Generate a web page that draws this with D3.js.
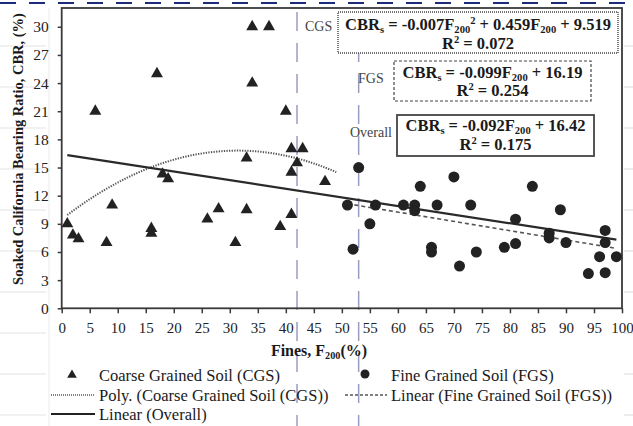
<!DOCTYPE html>
<html><head><meta charset="utf-8">
<script src="https://cdn.jsdelivr.net/npm/d3@7"></script>
<style>
html,body{margin:0;padding:0;background:#fff;}
svg{display:block;}
text{font-family:"Liberation Serif","Times New Roman",serif;}
</style></head>
<body>
<svg id="chart" width="633" height="426"></svg>
<script>
// ---- data ----
const cgsFines = [1,2,3,6,8,9,16,16,17,18,19,26,28,31,33,33,34,34,37,39,40,41,41,41,42,43,47];
const cgsCBR   = [9,7.8,7.4,21,7,11,8.5,8,25,14.3,13.8,9.5,10.6,7,16,10.5,30,24,30,8.7,21,17,14.5,10,15.5,17,13.5];
const fgsFines = [51,52,53,55,56,61,63,63,64,66,66,67,70,71,73,74,79,81,81,84,87,87,89,90,94,96,97,97,97,99];
const fgsCBR   = [11,6.3,15,9,11,11,11,10.4,13,6.5,6,11,14,4.5,11,6,6.5,9.5,6.9,13,8,7.5,10.5,7,3.7,5.5,8.3,7,3.8,5.5];
// trendline coefficients (as drawn)
const cgsPoly = [-0.00742, 0.4662, 9.481];
const cgsPolyRange = [1, 49.2];
const fgsLin = [-0.099, 16.19];  const fgsLinRange = [51, 99];
const allLin = [-0.092, 16.42];  const allLinRange = [1, 99];
const boundaries = [42, 53];
const boundaryLabels = ["CGS", "FGS", "Overall"];
const xTicks = d3.range(0, 101, 5);
const yTicks = d3.range(0, 31, 3);

const svg = d3.select("#chart");
const x = d3.scaleLinear().domain([0,100]).range([61.7, 622]);
const y = d3.scaleLinear().domain([0,32]).range([308.3, 8]);

// faint page artifacts
const faintY = [46, 87, 128, 169, 210, 251, 292, 333, 374, 415];
svg.selectAll("line.fl").data(faintY).enter().append("line").attr("class","fl")
  .attr("x1",0).attr("x2",46).attr("y1",d=>d).attr("y2",d=>d).attr("stroke","#ededed").attr("stroke-width",1.5);
svg.selectAll("line.fr").data(faintY).enter().append("line").attr("class","fr")
  .attr("x1",624).attr("x2",633).attr("y1",d=>d).attr("y2",d=>d).attr("stroke","#e6e6e6").attr("stroke-width",1.5);
svg.append("line").attr("x1",49).attr("x2",49).attr("y1",8).attr("y2",426).attr("stroke","#efefef").attr("stroke-width",1.2);
svg.append("line").attr("x1",0).attr("x2",633).attr("y1",3).attr("y2",3)
  .attr("stroke","#1c2a7a").attr("stroke-width",2).attr("stroke-dasharray","16,13");

// boundary dashed lines
svg.selectAll("line.bd").data(boundaries).enter().append("line").attr("class","bd")
  .attr("x1",d=>x(d)).attr("x2",d=>x(d)).attr("y1",12).attr("y2",426)
  .attr("stroke","#9a9cc0").attr("stroke-width",1.5).attr("stroke-dasharray","19,12");

// frame
svg.append("rect").attr("x",x(0)).attr("y",y(32)).attr("width",x(100)-x(0)).attr("height",y(0)-y(32))
  .attr("fill","none").attr("stroke","#3a3a3a").attr("stroke-width",1.8);

// axes
const yAxis = d3.axisLeft(y).tickValues(yTicks).tickSize(4).tickPadding(9).tickFormat(d3.format("d"));
const gy = svg.append("g").attr("transform",`translate(${x(0)},0)`).call(yAxis);
gy.select(".domain").remove();
gy.selectAll("line").attr("stroke","#3a3a3a").attr("stroke-width",1.5);
gy.selectAll("text").attr("font-size",15.5).attr("fill","#222").style("font-family","Liberation Serif");

const xAxis = d3.axisBottom(x).tickValues(xTicks).tickSize(5).tickPadding(9).tickFormat(d3.format("d"));
const gx = svg.append("g").attr("transform",`translate(0,${y(0)})`).call(xAxis);
gx.select(".domain").remove();
gx.selectAll("line").attr("stroke","#3a3a3a").attr("stroke-width",1.5);
gx.selectAll("text").attr("font-size",15).attr("fill","#222").style("font-family","Liberation Serif");

// trendlines
const line = d3.line().x(d=>x(d[0])).y(d=>y(d[1]));
const polyPts = d3.range(cgsPolyRange[0], cgsPolyRange[1]+0.001, 0.4).map(f=>[f, cgsPoly[0]*f*f+cgsPoly[1]*f+cgsPoly[2]]);
svg.append("path").attr("d",line(polyPts)).attr("fill","none").attr("stroke","#555").attr("stroke-width",2).attr("stroke-dasharray","1.3,1.3");
svg.append("path").attr("d",line(fgsLinRange.map(f=>[f,fgsLin[0]*f+fgsLin[1]]))).attr("fill","none")
  .attr("stroke","#555").attr("stroke-width",1.6).attr("stroke-dasharray","4,3");
svg.append("path").attr("d",line(allLinRange.map(f=>[f,allLin[0]*f+allLin[1]]))).attr("fill","none")
  .attr("stroke","#2a2a2a").attr("stroke-width",2.2);

// points
const tri = d3.symbol().type(d3.symbolTriangle).size(62);
svg.selectAll("path.cgs").data(cgsFines.map((f,i)=>[f,cgsCBR[i]])).enter().append("path").attr("class","cgs")
  .attr("d",tri).attr("transform",d=>`translate(${x(d[0])},${y(d[1])})`).attr("fill","#222");
svg.selectAll("circle.fgs").data(fgsFines.map((f,i)=>[f,fgsCBR[i]])).enter().append("circle").attr("class","fgs")
  .attr("cx",d=>x(d[0])).attr("cy",d=>y(d[1])).attr("r",5.5).attr("fill","#222");

// rich multi-line text helper
function rich(g, xx, baselines, lines, size, weight, anchor){
  const t = g.append("text").attr("font-size",size).attr("font-weight",weight||"normal")
    .attr("text-anchor",anchor||"start").attr("fill","#1a1a1a");
  lines.forEach((parts, li)=>{
    let shift = 0;
    parts.forEach((p, pi)=>{
      const s = p.sub ? size*0.2 : p.sup ? -size*0.34 : 0;
      const ts = t.append("tspan").attr("font-size", (p.sub||p.sup)? size*0.64 : size).text(p.t);
      if(pi===0){ ts.attr("x",xx).attr("y",baselines[li]+s); }
      else ts.attr("dy", s - shift);
      shift = s;
    });
  });
  return t;
}

// equation boxes
const boxes = [
  {x:338,y:12,w:280,h:41,dash:"1,1",sw:1.4,
   l1:[{t:"CBR"},{t:"s",sub:1},{t:" = -0.007F"},{t:"200",sub:1},{t:"2",sup:1},{t:" + 0.459F"},{t:"200",sub:1},{t:" + 9.519"}],
   l2:[{t:"R"},{t:"2",sup:1},{t:" = 0.072"}], b1:30, b2:48.5},
  {x:394,y:61,w:197,h:40,dash:"3,2",sw:1.2,
   l1:[{t:"CBR"},{t:"s",sub:1},{t:" = -0.099F"},{t:"200",sub:1},{t:" + 16.19"}],
   l2:[{t:"R"},{t:"2",sup:1},{t:" = 0.254"}], b1:77.5, b2:96},
  {x:397,y:115,w:197,h:41,dash:null,sw:1.8,
   l1:[{t:"CBR"},{t:"s",sub:1},{t:"  = -0.092F"},{t:"200",sub:1},{t:" + 16.42"}],
   l2:[{t:"R"},{t:"2",sup:1},{t:" = 0.175"}], b1:131, b2:149.5}
];
boxes.forEach(b=>{
  const r = svg.append("rect").attr("x",b.x).attr("y",b.y).attr("width",b.w).attr("height",b.h)
    .attr("fill","#fff").attr("stroke","#444").attr("stroke-width",b.sw);
  if(b.dash) r.attr("stroke-dasharray",b.dash);
  rich(svg, b.x+b.w/2, [b.b1, b.b2], [b.l1, b.l2], 16.5, "bold", "middle");
});

// region labels
const lblPos = [[305,31],[358,83],[350,137]];
boundaryLabels.forEach((l,i)=>{
  svg.append("text").attr("x",lblPos[i][0]).attr("y",lblPos[i][1]).attr("font-size",14).attr("fill","#444").text(l);
});

// axis titles
rich(svg, 319, [356], [[{t:"Fines, F"},{t:"200",sub:1},{t:"(%)"}]], 16, "bold", "middle");
svg.append("text").attr("transform","translate(23,149) rotate(-90)").attr("text-anchor","middle")
  .attr("font-size",14.5).attr("font-weight","bold").attr("fill","#1a1a1a")
  .text("Soaked California Bearing Ratio, CBR, (%)");

// legend
const leg = svg.append("g");
leg.append("path").attr("d",d3.symbol().type(d3.symbolTriangle).size(40)()).attr("transform","translate(72,375)").attr("fill","#222");
leg.append("circle").attr("cx",365).attr("cy",374).attr("r",4.5).attr("fill","#222");
leg.append("line").attr("x1",51).attr("x2",95).attr("y1",395).attr("y2",395).attr("stroke","#555").attr("stroke-width",1.6).attr("stroke-dasharray","1,1");
leg.append("line").attr("x1",345).attr("x2",387).attr("y1",395).attr("y2",395).attr("stroke","#555").attr("stroke-width",1.4).attr("stroke-dasharray","3,2");
leg.append("line").attr("x1",51).attr("x2",95).attr("y1",414).attr("y2",414).attr("stroke","#222").attr("stroke-width",1.8);
const legTexts = [["Coarse Grained Soil (CGS)",99,381],["Fine Grained Soil (FGS)",391,381],
  ["Poly. (Coarse Grained Soil (CGS))",99,401],["Linear (Fine Grained Soil (FGS))",391,401],["Linear (Overall)",99,420]];
legTexts.forEach(d=>leg.append("text").attr("x",d[1]).attr("y",d[2]).attr("font-size",16.5).attr("fill","#1a1a1a").text(d[0]));
</script>
</body></html>
